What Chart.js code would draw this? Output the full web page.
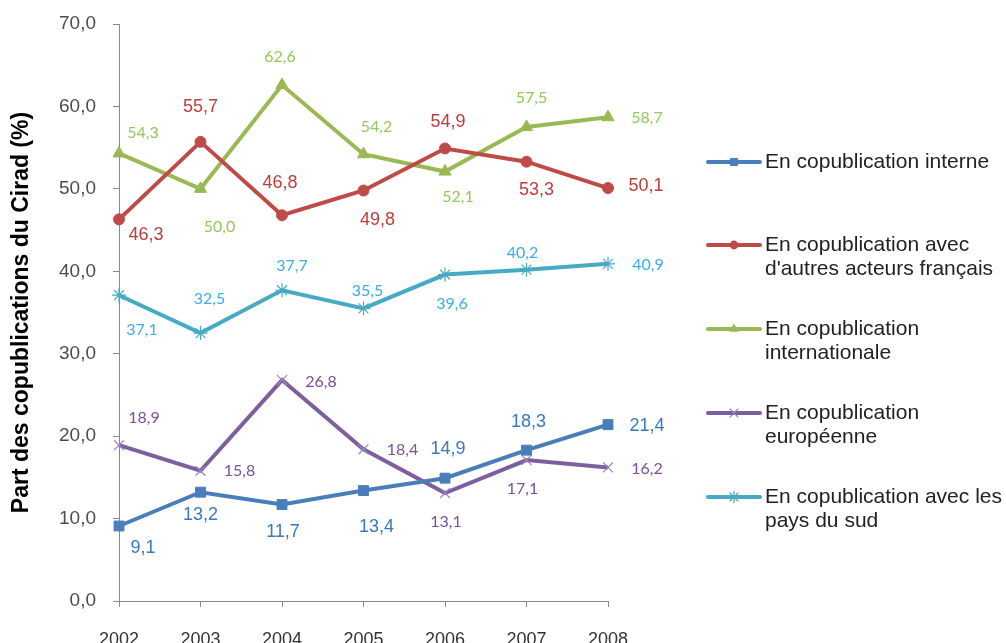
<!DOCTYPE html>
<html>
<head>
<meta charset="utf-8">
<script src="https://cdn.jsdelivr.net/npm/chart.js@4/dist/chart.umd.min.js"></script>
<style>
html,body{margin:0;padding:0;overflow:hidden;background:#fff;}
#wrap{position:relative;width:1006px;height:660px;}
</style>
</head>
<body>
<div id="wrap"><canvas id="c" width="1006" height="660"></canvas></div>
<script>
// ---- data ----
const years = ["2002","2003","2004","2005","2006","2007","2008"];
const interne = [9.1, 13.2, 11.7, 13.4, 14.9, 18.3, 21.4];
const francais = [46.3, 55.7, 46.8, 49.8, 54.9, 53.3, 50.1];
const international = [54.3, 50.0, 62.6, 54.2, 52.1, 57.5, 58.7];
const europeenne = [18.9, 15.8, 26.8, 18.4, 13.1, 17.1, 16.2];
const paysSud = [37.1, 32.5, 37.7, 35.5, 39.6, 40.2, 40.9];
const seriesNames = [
  ["En copublication interne"],
  ["En copublication avec", "d'autres acteurs français"],
  ["En copublication", "internationale"],
  ["En copublication", "européenne"],
  ["En copublication avec les", "pays du sud"]
];
const yTicks = [0, 10, 20, 30, 40, 50, 60, 70];
const yTitle = "Part des copublications du Cirad (%)";

// ---- label placement (pixel offsets from each point) ----
const labelOffsets = [
  [[24,22],[0,23],[1,27],[13,36],[3,-29],[2,-28],[39,1]],
  [[27,16],[0,-35],[-2,-32],[14,30],[3,-26],[10,28],[38,-2]],
  [[24,-21],[19,38],[-2,-28],[13,-27],[13,25],[5,-29],[39,1]],
  [[25,-27],[39,0],[39,2],[39,1],[1,29],[-4,29],[39,1]],
  [[23,35],[9,-34],[10,-24],[4,-18],[7,29],[-4,-17],[40,1]]
];
const labelStyles = [
  {color:'#3a78c0', font:'18px "Liberation Sans", Arial, sans-serif'},
  {color:'#c23b3b', font:'18px "Liberation Sans", Arial, sans-serif'},
  {color:'#92c95a', font:'16px Lato, "Open Sans", sans-serif'},
  {color:'#7b4f9d', font:'16px Lato, "Open Sans", sans-serif'},
  {color:'#3aaee2', font:'16px Lato, "Open Sans", sans-serif'}
];

const fmt = v => v.toFixed(1).replace('.', ',');

const lineColors = ['#4a7ebb', '#be4b48', '#98b954', '#7d5fa0', '#46aac5'];
const pointColors = ['#4a7ebb', '#be4b48', '#98b954', '#9a86c2', '#46aac5'];
const pointStyles = ['rect', 'circle', 'triangle', 'crossRot', 'star'];
const pointRadii = [7, 5.5, 7, 7, 7];
const pointBW = [1, 1, 1, 1.2, 1.2];

const seriesData = [interne, francais, international, europeenne, paysSud];

const datasets = seriesData.map((d, i) => ({
  label: seriesNames[i].join(' '),
  data: d,
  borderColor: lineColors[i],
  backgroundColor: pointColors[i],
  borderWidth: 4,
  tension: 0,
  pointStyle: pointStyles[i],
  pointRadius: pointRadii[i],
  pointBorderColor: pointColors[i],
  pointBackgroundColor: pointColors[i],
  pointBorderWidth: pointBW[i],
  clip: false
}));

function drawMarker(ctx, style, x, y, r, color, bw) {
  ctx.save();
  ctx.fillStyle = color; ctx.strokeStyle = color; ctx.lineWidth = bw;
  ctx.beginPath();
  if (style === 'rect') {
    const s = r * Math.SQRT1_2;
    ctx.rect(x - s, y - s, 2*s, 2*s); ctx.fill();
  } else if (style === 'circle') {
    ctx.arc(x, y, r, 0, Math.PI*2); ctx.fill();
  } else if (style === 'triangle') {
    ctx.moveTo(x, y - r);
    ctx.lineTo(x + r*0.866, y + r*0.5);
    ctx.lineTo(x - r*0.866, y + r*0.5);
    ctx.closePath(); ctx.fill();
  } else if (style === 'crossRot') {
    const s = r * Math.SQRT1_2;
    ctx.moveTo(x - s, y - s); ctx.lineTo(x + s, y + s);
    ctx.moveTo(x - s, y + s); ctx.lineTo(x + s, y - s); ctx.stroke();
  } else if (style === 'star') {
    const s = r * Math.SQRT1_2;
    ctx.moveTo(x - s, y - s); ctx.lineTo(x + s, y + s);
    ctx.moveTo(x - s, y + s); ctx.lineTo(x + s, y - s);
    ctx.moveTo(x, y - r); ctx.lineTo(x, y + r); ctx.stroke();
  }
  ctx.restore();
}

const dataLabelPlugin = {
  id: 'dataLabels',
  afterDatasetsDraw(chart) {
    const ctx = chart.ctx;
    chart.data.datasets.forEach((ds, i) => {
      const meta = chart.getDatasetMeta(i);
      ctx.save();
      ctx.fillStyle = labelStyles[i].color;
      ctx.font = labelStyles[i].font;
      ctx.textAlign = 'center';
      ctx.textBaseline = 'middle';
      meta.data.forEach((pt, j) => {
        const off = labelOffsets[i][j];
        ctx.fillText(fmt(ds.data[j]), pt.x + off[0], pt.y + off[1]);
      });
      ctx.restore();
    });
  }
};

const legendTops = [162, 245, 329, 413, 497];
const legendPlugin = {
  id: 'sideLegend',
  afterDraw(chart) {
    const ctx = chart.ctx;
    ctx.save();
    chart.data.datasets.forEach((ds, i) => {
      const y = legendTops[i];
      ctx.strokeStyle = lineColors[i];
      ctx.lineWidth = 4;
      ctx.lineCap = 'round';
      ctx.beginPath(); ctx.moveTo(708, y); ctx.lineTo(760, y); ctx.stroke();
      drawMarker(ctx, pointStyles[i], 734, y, pointRadii[i]*0.8, pointColors[i], pointBW[i]);
      ctx.fillStyle = '#222';
      ctx.font = '21px "Liberation Sans", Arial, sans-serif';
      ctx.textAlign = 'left';
      ctx.textBaseline = 'middle';
      seriesNames[i].forEach((ln, k) => ctx.fillText(ln, 765, y + k*24));
    });
    ctx.restore();
  }
};

new Chart(document.getElementById('c'), {
  type: 'line',
  data: { labels: years, datasets },
  options: {
    responsive: false,
    animation: false,
    events: [],
    layout: { padding: { top: 24, right: 398, bottom: 0, left: 0 } },
    plugins: { legend: { display: false }, tooltip: { enabled: false } },
    scales: {
      x: {
        offset: false,
        grid: { display: true, drawOnChartArea: false, drawTicks: true, tickLength: 6, color: '#888', lineWidth: 1 },
        border: { display: true, color: '#888', width: 1 },
        ticks: { color: '#333', font: { family: '"Liberation Sans", Arial, sans-serif', size: 18 }, padding: 22, maxRotation: 0 },
        afterFit(scale) { scale.height = 59; scale.paddingLeft = 0; scale.paddingRight = 0; }
      },
      y: {
        min: 0, max: 70,
        afterBuildTicks(scale) { scale.ticks = yTicks.map(v => ({ value: v })); },
        grid: { display: true, drawOnChartArea: false, drawTicks: true, tickLength: 6, color: '#888', lineWidth: 1 },
        border: { display: true, color: '#888', width: 1 },
        ticks: { color: '#4d4d4d', font: { family: '"Liberation Sans", Arial, sans-serif', size: 19 }, padding: 17,
          callback: v => fmt(v) },
        title: { display: true, text: yTitle, color: '#000',
          font: { family: '"Liberation Sans", Arial, sans-serif', size: 23, weight: 'bold' }, padding: { top: 8, bottom: 0 } },
        afterFit(scale) { scale.width = 119; scale.paddingTop = 0; scale.paddingBottom = 0; }
      }
    }
  },
  plugins: [dataLabelPlugin, legendPlugin]
});
</script>
</body>
</html>
